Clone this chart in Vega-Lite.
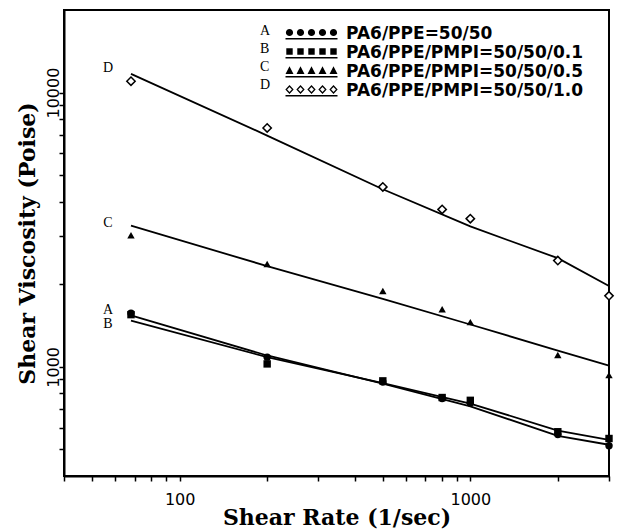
{
  "$schema": "https://vega.github.io/schema/vega-lite/v6.json",
  "width": 545,
  "height": 466,
  "autosize": "none",
  "padding": {"left": 64, "top": 10, "right": 9, "bottom": 53},
  "background": "white",
  "config": {
    "view": {"stroke": "black", "strokeWidth": 2},
    "axis": {
      "grid": false,
      "domainColor": "black",
      "domainWidth": 2,
      "tickColor": "black",
      "tickWidth": 1.5,
      "tickSize": 5,
      "labelFont": "DejaVu Sans",
      "labelFontSize": 16,
      "labelColor": "black",
      "labelFlush": false,
      "labelOverlap": false,
      "titleFont": "DejaVu Serif",
      "titleFontSize": 22,
      "titleFontWeight": "bold",
      "titleColor": "black"
    }
  },
  "datasets": {
    "points": [
      {"series": "B", "rate": 68, "visc": 1550},
      {"series": "B", "rate": 200, "visc": 1025},
      {"series": "B", "rate": 500, "visc": 889},
      {"series": "B", "rate": 800, "visc": 773},
      {"series": "B", "rate": 1000, "visc": 755},
      {"series": "B", "rate": 2000, "visc": 580},
      {"series": "B", "rate": 3000, "visc": 548},
      {"series": "A", "rate": 68, "visc": 1570},
      {"series": "A", "rate": 200, "visc": 1085},
      {"series": "A", "rate": 500, "visc": 881},
      {"series": "A", "rate": 800, "visc": 766},
      {"series": "A", "rate": 1000, "visc": 738},
      {"series": "A", "rate": 2000, "visc": 567},
      {"series": "A", "rate": 3000, "visc": 516},
      {"series": "C", "rate": 68, "visc": 3020},
      {"series": "C", "rate": 200, "visc": 2370},
      {"series": "C", "rate": 500, "visc": 1890},
      {"series": "C", "rate": 800, "visc": 1623},
      {"series": "C", "rate": 1000, "visc": 1456},
      {"series": "C", "rate": 2000, "visc": 1104},
      {"series": "C", "rate": 3000, "visc": 933},
      {"series": "D", "rate": 68, "visc": 11000},
      {"series": "D", "rate": 200, "visc": 7430},
      {"series": "D", "rate": 500, "visc": 4530},
      {"series": "D", "rate": 800, "visc": 3750},
      {"series": "D", "rate": 1000, "visc": 3470},
      {"series": "D", "rate": 2000, "visc": 2440},
      {"series": "D", "rate": 3000, "visc": 1815}
    ],
    "fits": [
      {"series": "A", "rate": 68, "visc": 1540},
      {"series": "A", "rate": 200, "visc": 1100},
      {"series": "A", "rate": 500, "visc": 868},
      {"series": "A", "rate": 1000, "visc": 718},
      {"series": "A", "rate": 2000, "visc": 560},
      {"series": "A", "rate": 3000, "visc": 520},
      {"series": "B", "rate": 68, "visc": 1475},
      {"series": "B", "rate": 200, "visc": 1085},
      {"series": "B", "rate": 500, "visc": 872},
      {"series": "B", "rate": 1000, "visc": 735},
      {"series": "B", "rate": 2000, "visc": 586},
      {"series": "B", "rate": 3000, "visc": 542},
      {"series": "C", "rate": 68, "visc": 3270},
      {"series": "C", "rate": 200, "visc": 2330},
      {"series": "C", "rate": 500, "visc": 1770},
      {"series": "C", "rate": 1000, "visc": 1427},
      {"series": "C", "rate": 2000, "visc": 1147},
      {"series": "C", "rate": 3000, "visc": 1010},
      {"series": "D", "rate": 68, "visc": 11700},
      {"series": "D", "rate": 200, "visc": 6970},
      {"series": "D", "rate": 500, "visc": 4440},
      {"series": "D", "rate": 1000, "visc": 3250},
      {"series": "D", "rate": 2000, "visc": 2490},
      {"series": "D", "rate": 3000, "visc": 1970}
    ],
    "tags": [
      {"letter": "A", "name": "PA6/PPE=50/50", "rate": 68, "visc": 1607},
      {"letter": "B", "name": "PA6/PPE/PMPI=50/50/0.1", "rate": 68, "visc": 1427},
      {"letter": "C", "name": "PA6/PPE/PMPI=50/50/0.5", "rate": 68, "visc": 3346},
      {"letter": "D", "name": "PA6/PPE/PMPI=50/50/1.0", "rate": 68, "visc": 12330}
    ]
  },
  "layer": [
    {
      "data": {"name": "fits"},
      "mark": {"type": "line", "color": "black", "strokeWidth": 1.8},
      "encoding": {
        "x": {
          "field": "rate", "type": "quantitative",
          "scale": {"type": "log", "domain": [40, 3000], "nice": false},
          "axis": {
            "title": "Shear Rate (1/sec)",
            "values": [40, 50, 60, 70, 80, 90, 100, 200, 300, 400, 500, 600, 700, 800, 900, 1000, 2000, 3000],
            "labelExpr": "datum.value === 100 ? '100' : datum.value === 1000 ? '1000' : ''",
            "labelPadding": 10,
            "titlePadding": 0
          }
        },
        "y": {
          "field": "visc", "type": "quantitative",
          "scale": {"type": "log", "domain": [400, 20000], "nice": false},
          "axis": {
            "title": "Shear Viscosity (Poise)",
            "values": [500, 600, 700, 800, 900, 1000, 2000, 3000, 4000, 5000, 6000, 7000, 8000, 9000, 10000],
            "labelExpr": "datum.value === 1000 ? '1000' : datum.value === 10000 ? '10000' : ''",
            "labelAngle": 270,
            "labelAlign": "center",
            "labelBaseline": "alphabetic",
            "labelPadding": 1,
            "titlePadding": 6
          }
        },
        "detail": {"field": "series", "type": "nominal"}
      }
    },
    {
      "data": {"name": "points"},
      "transform": [{"filter": "datum.series !== 'D'"}],
      "mark": {"type": "point", "filled": true, "color": "black", "opacity": 1, "size": 55},
      "encoding": {
        "x": {"field": "rate", "type": "quantitative", "scale": {"type": "log", "domain": [40, 3000], "nice": false}},
        "y": {"field": "visc", "type": "quantitative", "scale": {"type": "log", "domain": [400, 20000], "nice": false}},
        "shape": {
          "field": "series", "type": "nominal",
          "scale": {"domain": ["A", "B", "C", "D"], "range": ["circle", "square", "triangle-up", "diamond"]},
          "legend": null
        }
      }
    },
    {
      "data": {"name": "points"},
      "transform": [{"filter": "datum.series === 'D'"}],
      "mark": {"type": "point", "shape": "diamond", "filled": false, "fill": "white", "stroke": "black", "strokeWidth": 1.5, "size": 70, "opacity": 1},
      "encoding": {
        "x": {"field": "rate", "type": "quantitative", "scale": {"type": "log", "domain": [40, 3000], "nice": false}},
        "y": {"field": "visc", "type": "quantitative", "scale": {"type": "log", "domain": [400, 20000], "nice": false}}
      }
    },
    {
      "data": {"name": "tags"},
      "mark": {"type": "text", "font": "Liberation Serif", "fontSize": 14, "color": "black", "align": "center", "baseline": "middle", "dx": -23},
      "encoding": {
        "x": {"field": "rate", "type": "quantitative", "scale": {"type": "log", "domain": [40, 3000], "nice": false}},
        "y": {"field": "visc", "type": "quantitative", "scale": {"type": "log", "domain": [400, 20000], "nice": false}},
        "text": {"field": "letter", "type": "nominal"}
      }
    },
    {
      "data": {"name": "tags"},
      "transform": [{"filter": "false"}],
      "mark": {"type": "point", "filled": true, "color": "black", "opacity": 1},
      "encoding": {
        "shape": {
          "field": "name", "type": "nominal",
          "scale": {
            "domain": ["PA6/PPE=50/50", "PA6/PPE/PMPI=50/50/0.1", "PA6/PPE/PMPI=50/50/0.5", "PA6/PPE/PMPI=50/50/1.0"],
            "range": [
              "M-3.2,-0.125A0.45,0.45,0,1,0,-2.3,-0.125A0.45,0.45,0,1,0,-3.2,-0.125Z M-1.825,-0.125A0.45,0.45,0,1,0,-0.925,-0.125A0.45,0.45,0,1,0,-1.825,-0.125Z M-0.45,-0.125A0.45,0.45,0,1,0,0.45,-0.125A0.45,0.45,0,1,0,-0.45,-0.125Z M0.925,-0.125A0.45,0.45,0,1,0,1.825,-0.125A0.45,0.45,0,1,0,0.925,-0.125Z M2.3,-0.125A0.45,0.45,0,1,0,3.2,-0.125A0.45,0.45,0,1,0,2.3,-0.125Z M-3.25,0.55L3.25,0.55L3.25,0.74L-3.25,0.74Z",
              "M-3.15,-0.525L-2.35,-0.525L-2.35,0.275L-3.15,0.275Z M-1.775,-0.525L-0.975,-0.525L-0.975,0.275L-1.775,0.275Z M-0.4,-0.525L0.4,-0.525L0.4,0.275L-0.4,0.275Z M0.975,-0.525L1.775,-0.525L1.775,0.275L0.975,0.275Z M2.35,-0.525L3.15,-0.525L3.15,0.275L2.35,0.275Z M-3.25,0.55L3.25,0.55L3.25,0.74L-3.25,0.74Z",
              "M-2.75,-0.65L-2.25,0.3L-3.25,0.3Z M-1.375,-0.65L-0.875,0.3L-1.875,0.3Z M0,-0.65L0.5,0.3L-0.5,0.3Z M1.375,-0.65L1.875,0.3L0.875,0.3Z M2.75,-0.65L3.25,0.3L2.25,0.3Z M-3.25,0.55L3.25,0.55L3.25,0.74L-3.25,0.74Z",
              "M-2.75,-0.68L-2.23,-0.125L-2.75,0.43L-3.27,-0.125Z M-2.75,-0.43L-3.05,-0.125L-2.75,0.18L-2.45,-0.125Z M-1.375,-0.68L-0.855,-0.125L-1.375,0.43L-1.895,-0.125Z M-1.375,-0.43L-1.675,-0.125L-1.375,0.18L-1.075,-0.125Z M0,-0.68L0.52,-0.125L0,0.43L-0.52,-0.125Z M0,-0.43L-0.3,-0.125L0,0.18L0.3,-0.125Z M1.375,-0.68L1.895,-0.125L1.375,0.43L0.855,-0.125Z M1.375,-0.43L1.075,-0.125L1.375,0.18L1.675,-0.125Z M2.75,-0.68L3.27,-0.125L2.75,0.43L2.23,-0.125Z M2.75,-0.43L2.45,-0.125L2.75,0.18L3.05,-0.125Z M-3.25,0.55L3.25,0.55L3.25,0.74L-3.25,0.74Z"
            ]
          },
          "legend": {
            "orient": "none",
            "legendX": 239,
            "legendY": 15,
            "title": null,
            "padding": 0,
            "symbolSize": 256,
            "symbolFillColor": "black",
            "symbolStrokeWidth": 0,
            "symbolOpacity": 1,
            "labelFont": "DejaVu Sans",
            "labelFontWeight": "bold",
            "labelFontSize": 17,
            "labelColor": "black",
            "labelOffset": 26,
            "labelLimit": 400,
            "rowPadding": 1
          }
        }
      }
    },
    {
      "data": {"name": "tags"},
      "transform": [{"filter": "false"}],
      "mark": {"type": "point", "filled": true},
      "encoding": {
        "color": {
          "field": "letter", "type": "nominal",
          "scale": {"domain": ["A", "B", "C", "D"], "range": ["black", "black", "black", "black"]},
          "legend": {
            "orient": "none",
            "legendX": 182,
            "legendY": 14,
            "title": null,
            "padding": 0,
            "symbolSize": 1,
            "symbolOpacity": 0,
            "symbolStrokeWidth": 0,
            "labelFont": "Liberation Serif",
            "labelFontSize": 14,
            "labelColor": "black",
            "labelOffset": 0,
            "rowPadding": 4
          }
        }
      }
    }
  ],
  "resolve": {"scale": {"shape": "independent", "color": "independent"}}
}
